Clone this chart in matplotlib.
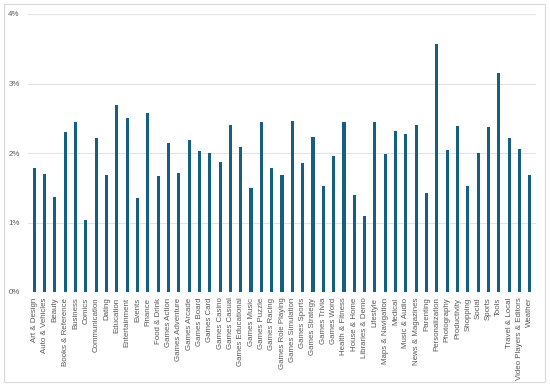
import matplotlib
matplotlib.use("Agg")
import matplotlib.pyplot as plt
from matplotlib.patches import Rectangle
from matplotlib.ticker import FuncFormatter

plt.rcParams["font.family"] = ["Liberation Sans", "DejaVu Sans"]

categories = [
    "Art & Design", "Auto & Vehicles", "Beauty", "Books & Reference", "Business",
    "Comics", "Communication", "Dating", "Education", "Entertainment", "Events",
    "Finance", "Food & Drink", "Games Action", "Games Adventure", "Games Arcade",
    "Games Board", "Games Card", "Games Casino", "Games Casual", "Games Educational",
    "Games Music", "Games Puzzle", "Games Racing", "Games Role Playing",
    "Games Simulation", "Games Sports", "Games Strategy", "Games Trivia", "Games Word",
    "Health & Fitness", "House & Home", "Libraries & Demo", "Lifestyle",
    "Maps & Navigation", "Medical", "Music & Audio", "News & Magazines", "Parenting",
    "Personalization", "Photography", "Productivity", "Shopping", "Social", "Sports",
    "Tools", "Travel & Local", "Video Players & Editors", "Weather",
]
# share of apps per category, in percent
share = [
    1.78, 1.70, 1.36, 2.30, 2.45, 1.03, 2.22, 1.68, 2.69, 2.50, 1.35,
    2.57, 1.67, 2.14, 1.71, 2.18, 2.03, 2.00, 1.87, 2.41, 2.09,
    1.49, 2.44, 1.78, 1.68, 2.46, 1.85, 2.23, 1.53, 1.95,
    2.44, 1.40, 1.10, 2.45, 1.99, 2.32, 2.27, 2.41, 1.43,
    3.57, 2.05, 2.39, 1.52, 2.00, 2.38, 3.15, 2.21, 2.06, 1.69,
]

fig = plt.figure(figsize=(5.5, 3.87), dpi=100)
ax = fig.add_axes([28 / 550, 1 - 292 / 387, (536 - 28) / 550, (292 - 14) / 387])

# outer chart border
fig.patches.append(Rectangle((4 / 550, 1 - 382 / 387), 541 / 550, 378 / 387,
                             transform=fig.transFigure, fill=False,
                             edgecolor="#d9d9d9", linewidth=0.8))

x = range(len(categories))
ax.bar(x, share, width=0.3, color="#156082", zorder=3)

ax.set_ylim(0, 4)
ax.set_xlim(-0.6, len(categories) - 0.4)
ax.set_yticks([0, 1, 2, 3, 4])
ax.yaxis.set_major_formatter(FuncFormatter(lambda v, p: f"{v:.0f}%"))
ax.grid(axis="y", color="#e3e3e3", linewidth=0.8, zorder=0)

ax.set_xticks(list(x))
ax.set_xticklabels(categories, rotation=90, fontsize=5.7, color="#595959")
ax.tick_params(axis="y", labelsize=5.7, labelcolor="#595959", length=0, pad=6)
ax.tick_params(axis="x", length=0, pad=4)
for s in ax.spines.values():
    s.set_visible(False)

fig.savefig("out.png", dpi=100)
